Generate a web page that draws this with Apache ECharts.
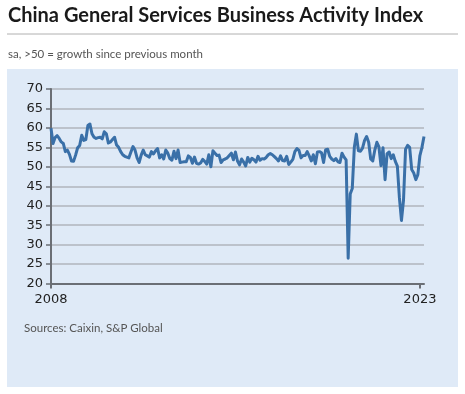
<!DOCTYPE html>
<html><head><meta charset="utf-8">
<script src="https://cdn.jsdelivr.net/npm/echarts@6/dist/echarts.min.js"></script>
<style>html,body{margin:0;padding:0;background:#fff}#c{width:465px;height:394px}</style>
</head><body><div id="c"></div>
<script>
const startYear = 2008;
const values2008 = [59.9, 56.0, 57.5, 58.0, 57.3, 56.4, 56.0, 53.9, 54.3, 53.2, 51.5, 51.4];
const values2009 = [53.0, 54.9, 55.5, 58.1, 56.8, 57.0, 60.6, 61.0, 58.5, 57.6, 57.3, 57.5];
const values2010 = [57.6, 57.2, 59.0, 58.5, 56.1, 56.4, 57.0, 57.6, 55.6, 55.0, 53.9, 53.1];
const values2011 = [52.7, 52.5, 52.3, 53.8, 55.2, 54.3, 52.3, 51.1, 53.0, 54.3, 53.1, 52.8];
const values2012 = [52.5, 53.9, 53.3, 54.1, 54.7, 52.3, 53.1, 52.0, 54.3, 53.5, 52.1, 51.7];
const values2013 = [54.0, 52.1, 54.3, 51.1, 51.2, 51.3, 51.3, 52.8, 52.4, 50.9, 52.5, 50.9];
const values2014 = [50.7, 51.0, 51.9, 51.4, 50.7, 53.1, 50.0, 54.1, 53.5, 52.9, 53.0, 51.1];
const values2015 = [51.8, 52.0, 52.3, 52.9, 53.5, 51.8, 53.8, 51.5, 50.5, 52.0, 51.2, 50.2];
const values2016 = [52.4, 51.2, 52.2, 51.8, 51.2, 52.7, 51.7, 52.1, 52.0, 52.4, 53.1, 53.4];
const values2017 = [53.1, 52.6, 52.1, 51.5, 52.8, 51.6, 51.5, 52.7, 50.6, 51.2, 51.9, 53.9];
const values2018 = [54.7, 54.2, 52.3, 52.9, 52.9, 53.9, 52.8, 51.5, 53.1, 50.8, 53.8, 53.9];
const values2019 = [53.6, 51.1, 54.4, 54.5, 52.7, 52.0, 51.6, 52.1, 51.3, 51.1, 53.5, 52.5];
const values2020 = [51.8, 26.5, 43.0, 44.4, 55.0, 58.4, 54.1, 54.0, 54.8, 56.8, 57.8, 56.3];
const values2021 = [52.0, 51.5, 54.3, 56.3, 55.1, 50.3, 54.9, 46.7, 53.4, 53.8, 52.1, 53.1];
const values2022 = [51.4, 50.2, 42.0, 36.2, 41.4, 54.5, 55.5, 55.0, 49.3, 48.4, 46.7, 48.0];
const values2023 = [52.9, 55.0, 57.8];
const yTicks = [20, 25, 30, 35, 40, 45, 50, 55, 60, 65, 70];
const xLabelYears = ['2008', '2023'];

const series = [].concat(values2008, values2009, values2010, values2011, values2012, values2013,
  values2014, values2015, values2016, values2017, values2018, values2019, values2020,
  values2021, values2022, values2023);
const categories = series.map((v, i) => {
  const y = startYear + Math.floor(i / 12), m = i % 12 + 1;
  return y + '-' + (m < 10 ? '0' + m : m);
});
const showIdx = (i, v) => xLabelYears.includes(String(v).slice(0, 4)) && String(v).slice(5) === '01';

const chart = echarts.init(document.getElementById('c'), null, {renderer: 'canvas'});
chart.setOption({
  animation: false,
  backgroundColor: '#ffffff',
  graphic: [
    {type: 'rect', shape: {x: 7, y: 69, width: 451, height: 318}, style: {fill: '#dfeaf7'}, z: -10},
    {type: 'line', shape: {x1: 7, y1: 34, x2: 458, y2: 34}, style: {stroke: '#b0b0b0', lineWidth: 1}},
    {type: 'text', left: 8, top: 6, style: {text: 'China General Services Business Activity Index',
      font: 'bold 20px Lato, sans-serif', fill: '#1a1a1a'}},
    {type: 'text', left: 8, top: 48, style: {text: 'sa, >50 = growth since previous month',
      font: '11.5px Lato, sans-serif', fill: '#555'}},
    {type: 'text', left: 24, top: 322, style: {text: 'Sources: Caixin, S&P Global',
      font: '11.5px Lato, sans-serif', fill: '#555'}}
  ],
  grid: {left: 51, right: 41, top: 89, bottom: 110.5, containLabel: false},
  xAxis: {
    type: 'category', data: categories, boundaryGap: false,
    axisLine: {show: true, lineStyle: {color: '#6b6f75', width: 2}},
    axisTick: {show: true, interval: showIdx, length: 5, lineStyle: {color: '#6b6f75', width: 2}},
    axisLabel: {interval: showIdx, formatter: v => v.slice(0, 4), color: '#222',
      fontFamily: 'DejaVu Sans', fontSize: 13, margin: 10},
    splitLine: {show: false}
  },
  yAxis: {
    type: 'value', min: 20, max: 70, interval: 5,
    axisLine: {show: true, lineStyle: {color: '#6b6f75', width: 2}},
    axisTick: {show: true, length: 5, lineStyle: {color: '#6b6f75', width: 1.5}},
    axisLabel: {color: '#222', fontFamily: 'DejaVu Sans', fontSize: 13, margin: 8,
      formatter: v => yTicks.includes(v) ? String(v) : ''},
    splitLine: {show: true, lineStyle: {color: '#bcc2cb', width: 2}}
  },
  series: [{
    type: 'line', data: series, showSymbol: false, symbol: 'none',
    lineStyle: {color: '#3a70a8', width: 3, join: 'round'}
  }]
});
</script></body></html>
